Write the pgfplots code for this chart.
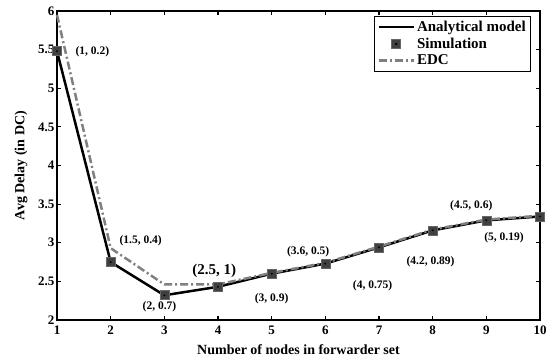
\documentclass[border=0pt]{standalone}
\usepackage{pgfplots}
\pgfplotsset{compat=1.18}
\usepackage{fontspec}
\setmainfont{Liberation Serif}
\definecolor{edcgray}{RGB}{128,128,128}
\definecolor{simgray}{RGB}{64,64,64}
\begin{document}
\begin{tikzpicture}
\begin{axis}[
  name=ax,
  scale only axis,
  width=483pt, height=309pt,
  xmin=1, xmax=10, ymin=2, ymax=6,
  xtick={1,2,3,4,5,6,7,8,9,10},
  xticklabels={\textbf{1},\textbf{2},\textbf{3},\textbf{4},\textbf{5},\textbf{6},\textbf{7},\textbf{8},\textbf{9},\textbf{10}},
  ytick={2,2.5,3,3.5,4,4.5,5,5.5,6},
  yticklabels={\textbf{2},\textbf{2.5},\textbf{3},\textbf{3.5},\textbf{4},\textbf{4.5},\textbf{5},\textbf{5.5},\textbf{6}},
  /pgf/number format/assume math mode=true,
  tick label style={font=\bfseries\fontsize{13}{15}\selectfont},
  xticklabel style={yshift=-2pt},
  yticklabel style={xshift=1pt},
  tick align=inside,
  tick pos=both,
  major tick length=4pt,
  tick style={line width=1.2pt, black},
  axis line style={line width=2.5pt},
  xlabel={\bfseries Number of nodes in forwarder set},
  ylabel={\bfseries Avg Delay (in DC)},
  label style={font=\bfseries\fontsize{14}{16}\selectfont},
  xlabel style={at={(rel axis cs:0.5,0)}, anchor=center, yshift=-30pt},
  ylabel style={at={(rel axis cs:0,0.5)}, anchor=center, rotate=0, yshift=36pt},
  legend style={at={(0.982,0.985)}, anchor=north east, draw=black, line width=1pt,
    font=\bfseries\fontsize{15}{17}\selectfont, inner sep=3pt, row sep=1pt,
    nodes={inner sep=2pt}},
  legend cell align=left,
  legend image code/.code={\draw[mark repeat=2,mark phase=2] plot coordinates {(0cm,0cm) (0.62cm,0cm) (1.24cm,0cm)};},
  clip=false,
]
\addplot[black, line width=2.5pt] coordinates {
(1,5.48) (2,2.75) (3,2.32) (4,2.43) (5,2.60) (6,2.73) (7,2.94) (8,3.16) (9,3.29) (10,3.34)};
\addlegendentry{Analytical model}
\addplot[only marks, mark=square*, mark size=4.5pt, mark options={fill=simgray, draw=simgray!80!white, line width=0.6pt},
  legend image code/.code={\draw plot coordinates {(0.62cm,0cm)}; \fill[black] (0.62cm,0cm) circle (0.7pt);}] coordinates {
(1,5.48) (2,2.75) (3,2.32) (4,2.43) (5,2.60) (6,2.73) (7,2.94) (8,3.16) (9,3.29) (10,3.34)};
\addlegendentry{Simulation}
\addplot[edcgray, line width=2.5pt, dash pattern=on 8pt off 3pt on 2pt off 3pt] coordinates {
(1,5.95) (2,2.93) (3,2.46) (4,2.46) (5,2.61) (6,2.74) (7,2.95) (8,3.17) (9,3.30) (10,3.35)};
\addlegendentry{EDC}
\addplot[only marks, mark=*, mark size=0.7pt, black, forget plot] coordinates {
(1,5.48) (2,2.75) (3,2.32) (4,2.43) (5,2.60) (6,2.73) (7,2.94) (8,3.16) (9,3.29) (10,3.34)};
\begin{scope}[every node/.style={font=\bfseries\fontsize{11.5}{13}\selectfont}]
\node at (axis cs:1.66,5.47) {(1, 0.2)};
\node at (axis cs:2.56,3.02) {(1.5, 0.4)};
\node at (axis cs:2.91,2.17) {(2, 0.7)};
\node[font=\bfseries\fontsize{15}{17}\selectfont] at (axis cs:3.93,2.63) {(2.5, 1)};
\node at (axis cs:5.0,2.27) {(3, 0.9)};
\node at (axis cs:5.68,2.89) {(3.6, 0.5)};
\node at (axis cs:6.88,2.45) {(4, 0.75)};
\node at (axis cs:7.96,2.76) {(4.2, 0.89)};
\node at (axis cs:8.72,3.48) {(4.5, 0.6)};
\node at (axis cs:9.33,3.06) {(5, 0.19)};
\end{scope}
\end{axis}
\pgfresetboundingbox
\path[use as bounding box] ([shift={(-57pt,-40pt)}]ax.south west) rectangle ([shift={(18pt,11pt)}]ax.north east);
\end{tikzpicture}
\end{document}
